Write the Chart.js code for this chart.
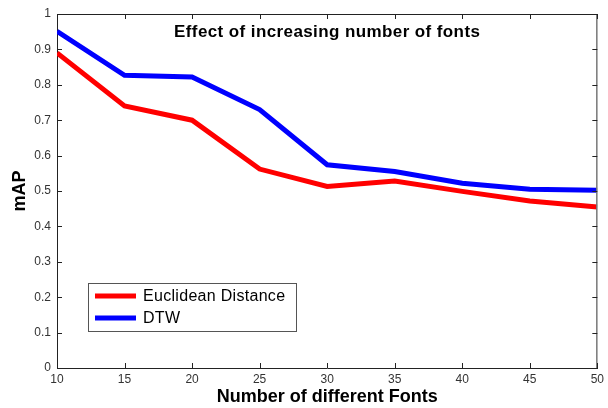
<!DOCTYPE html>
<html>
<head>
<meta charset="utf-8">
<script src="https://cdn.jsdelivr.net/npm/chart.js@4.4.1/dist/chart.umd.min.js"></script>
<style>
  html, body { margin: 0; padding: 0; background: #fff; }
  #wrap { width: 608px; height: 408px; }
</style>
</head>
<body>
<div id="wrap"><canvas id="c" width="608" height="408"></canvas></div>
<script>
// Number of fonts in the test set
const fontCounts = [10, 15, 20, 25, 30, 35, 40, 45, 50];
// mean average precision per method
const euclideanMAP = [0.89, 0.74, 0.70, 0.562, 0.513, 0.528, 0.499, 0.472, 0.455];
const dtwMAP = [0.951, 0.827, 0.822, 0.73, 0.574, 0.555, 0.522, 0.505, 0.502];

const seriesLabels = ['Euclidean Distance', 'DTW'];
const chartTitle = 'Effect of increasing number of fonts';
const xTitle = 'Number of different Fonts';
const yTitle = 'mAP';

const FONT = '"Liberation Sans", Arial, sans-serif';

// Frame on top/right, inward tick marks, title and legend box
const framePlugin = {
  id: 'frame',
  afterDatasetsDraw(chart) {
    const { ctx, chartArea: a, scales: { x, y } } = chart;
    ctx.save();
    ctx.lineWidth = 1;
    ctx.strokeStyle = '#222';
    ctx.beginPath();
    ctx.moveTo(a.left, a.top + 0.5);
    ctx.lineTo(a.right, a.top + 0.5);
    ctx.stroke();
    ctx.strokeStyle = '#777';
    ctx.lineWidth = 1.5;
    ctx.beginPath();
    ctx.moveTo(a.right - 0.5, a.top);
    ctx.lineTo(a.right - 0.5, a.bottom);
    ctx.stroke();
    ctx.strokeStyle = '#222';
    ctx.lineWidth = 1;
    const len = 5;
    ctx.beginPath();
    x.ticks.forEach(t => {
      const px = Math.round(x.getPixelForValue(t.value)) + 0.5;
      ctx.moveTo(px, a.bottom); ctx.lineTo(px, a.bottom - len);
      ctx.moveTo(px, a.top); ctx.lineTo(px, a.top + len);
    });
    y.ticks.forEach(t => {
      const py = Math.round(y.getPixelForValue(t.value)) + 0.5;
      ctx.moveTo(a.left, py); ctx.lineTo(a.left + len, py);
      ctx.moveTo(a.right, py); ctx.lineTo(a.right - len, py);
    });
    ctx.stroke();

    // Title inside the plot box
    ctx.fillStyle = '#000';
    ctx.font = 'bold 17px ' + FONT;
    ctx.letterSpacing = '0.4px';
    ctx.textAlign = 'center';
    ctx.textBaseline = 'alphabetic';
    ctx.fillText(chartTitle, (a.left + a.right) / 2, a.top + 23);

    // Legend box in the lower left
    const bx = 88, by = 283, bw = 208, bh = 48;
    ctx.fillStyle = '#fff';
    ctx.fillRect(bx, by, bw, bh);
    ctx.strokeStyle = '#555';
    ctx.lineWidth = 1;
    ctx.strokeRect(bx + 0.5, by + 0.5, bw, bh);
    ctx.font = '16px ' + FONT;
    ctx.letterSpacing = '0.3px';
    ctx.textAlign = 'left';
    ctx.textBaseline = 'middle';
    chart.data.datasets.forEach((ds, i) => {
      const ly = by + 13 + i * 22;
      ctx.strokeStyle = ds.borderColor;
      ctx.lineWidth = 5;
      ctx.beginPath();
      ctx.moveTo(bx + 7, ly);
      ctx.lineTo(bx + 48, ly);
      ctx.stroke();
      ctx.fillStyle = '#000';
      ctx.fillText(ds.label, bx + 55, ly + 1);
    });
    ctx.letterSpacing = '0px';
    ctx.restore();
  }
};

new Chart(document.getElementById('c'), {
  type: 'line',
  data: {
    datasets: [
      {
        label: seriesLabels[0],
        data: fontCounts.map((f, i) => ({ x: f, y: euclideanMAP[i] })),
        borderColor: '#ff0000',
        borderWidth: 5,
        pointRadius: 0,
        tension: 0,
        fill: false
      },
      {
        label: seriesLabels[1],
        data: fontCounts.map((f, i) => ({ x: f, y: dtwMAP[i] })),
        borderColor: '#0000ff',
        borderWidth: 5,
        pointRadius: 0,
        tension: 0,
        fill: false
      }
    ]
  },
  options: {
    responsive: false,
    animation: false,
    events: [],
    layout: { padding: { top: 14, right: 9, left: 0, bottom: 0 } },
    plugins: {
      legend: { display: false },
      title: { display: false },
      tooltip: { enabled: false }
    },
    scales: {
      x: {
        type: 'linear',
        min: 10,
        max: 50,
        grid: { display: false, drawTicks: false },
        border: { display: true, color: '#222', width: 1 },
        ticks: {
          stepSize: 5,
          color: '#333',
          padding: 4,
          font: { family: FONT, size: 12 },
          maxRotation: 0
        },
        title: {
          display: true,
          text: xTitle,
          color: '#000',
          font: { family: FONT, size: 18, weight: 'bold' },
          padding: { top: 0, bottom: 0 }
        },
        afterFit(s) { s.height = 40; }
      },
      y: {
        type: 'linear',
        min: 0,
        max: 1,
        grid: { display: false, drawTicks: false },
        border: { display: true, color: '#222', width: 1 },
        ticks: {
          stepSize: 0.1,
          color: '#333',
          padding: 6,
          font: { family: FONT, size: 12 },
          callback: v => Number(v.toFixed(1)).toString()
        },
        title: {
          display: true,
          text: yTitle,
          color: '#000',
          font: { family: FONT, size: 18, weight: 'bold' },
          padding: { top: 9, bottom: 0 }
        },
        afterFit(s) { s.width = 57; }
      }
    }
  },
  plugins: [framePlugin]
});
</script>
</body>
</html>
